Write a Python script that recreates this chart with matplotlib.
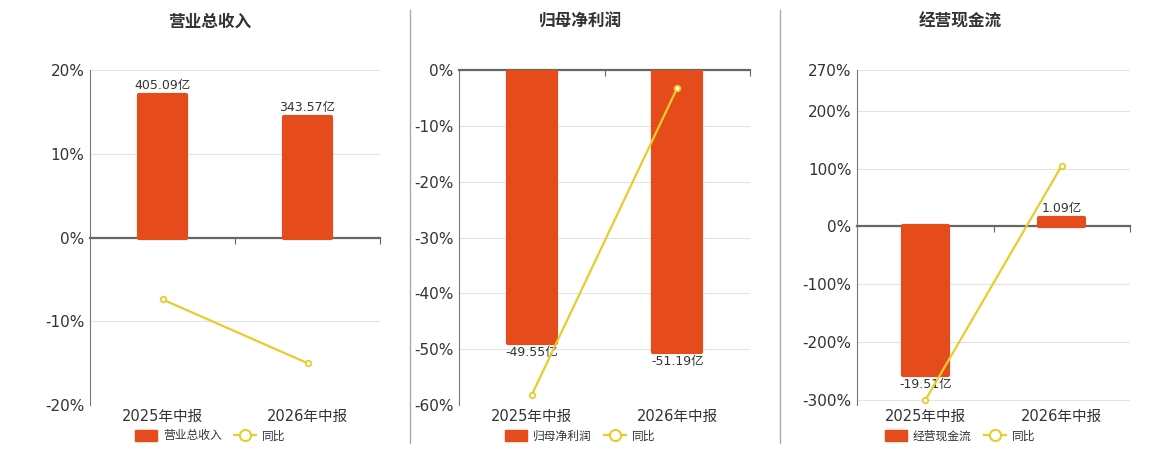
import matplotlib.pyplot as plt
from matplotlib.lines import Line2D
from matplotlib.patches import Patch

plt.rcParams['font.family'] = ['DejaVu Sans', 'Noto Sans CJK SC']

periods = ['2025年中报', '2026年中报']
titles = ['营业总收入', '归母净利润', '经营现金流']

revenue = [405.09, 343.57]
revenue_yoy = [-7.4, -15.0]
profit = [-49.55, -51.19]
profit_yoy = [-58.2, -3.2]
cashflow = [-19.51, 1.09]
cashflow_yoy = [-300.0, 105.0]

bar_color = '#E64B1B'
line_color = '#E5CE2B'

panels = [
    # bars, yoy, pct ylim, pct ticks, bar ylim
    (revenue, revenue_yoy, (-20, 20), [-20, -10, 0, 10, 20], (-476, 476)),
    (profit, profit_yoy, (-60, 0), [-60, -50, -40, -30, -20, -10, 0], (-60.8, 0)),
    (cashflow, cashflow_yoy, (-308, 270), [-300, -200, -100, 0, 100, 200, 270], (-23.4, 20.4)),
]
ax_rects = [
    [90 / 1160, 0.1, 290 / 1160, 0.7444],
    [459 / 1160, 0.1, 291 / 1160, 0.7444],
    [857 / 1160, 0.1, 273 / 1160, 0.7444],
]
title_x = [210 / 1160, 580 / 1160, 960 / 1160]

fig = plt.figure(figsize=(11.6, 4.5), dpi=100)

x = [0, 1]
for i, (bars, yoy, plim, pticks, blim) in enumerate(panels):
    ax = fig.add_axes(ax_rects[i])
    ax.set_xlim(-0.5, 1.5)
    ax.set_ylim(*plim)
    ax.set_yticks(pticks)
    ax.set_yticklabels([f'{t}%' for t in pticks], fontsize=11, color='#333333')
    ax.grid(axis='y', color='#e3e3e3', lw=0.8)
    ax.set_axisbelow(True)
    ax.tick_params(axis='y', length=0, pad=4)
    for s in ['top', 'right']:
        ax.spines[s].set_visible(False)
    ax.spines['left'].set_color('#777777')
    ax.spines['bottom'].set_position(('data', 0))
    ax.spines['bottom'].set_color('#666666')
    ax.spines['bottom'].set_linewidth(1.6)
    ax.set_xticks([0.5, 1.5])
    ax.set_xticklabels([])
    ax.tick_params(axis='x', length=4, color='#666666')

    sec = ax.secondary_xaxis('bottom')
    sec.set_xticks(x)
    sec.set_xticklabels(periods, fontsize=10.5, color='#333333')
    sec.tick_params(length=0, pad=3)
    sec.spines['bottom'].set_visible(False)

    axb = ax.twinx()
    axb.set_ylim(*blim)
    axb.set_yticks([])
    for s in axb.spines.values():
        s.set_visible(False)
    bc = axb.bar(x, bars, width=0.33, color=bar_color, edgecolor=bar_color,
                 lw=3, joinstyle='round')
    axb.bar_label(bc, labels=[f'{v:.2f}亿' for v in bars], padding=2,
                  fontsize=9, color='#333333')

    axl = ax.twinx()
    axl.set_ylim(*plim)
    axl.set_yticks([])
    for s in axl.spines.values():
        s.set_visible(False)
    axl.plot(x, yoy, color=line_color, lw=1.6, marker='o', ms=4,
             mfc='white', mec=line_color, mew=1.3)
    axl.set_xlim(-0.5, 1.5)

    fig.text(title_x[i], 1 - 22 / 450, titles[i], ha='center', va='center',
             fontsize=12, fontweight='bold', color='#333333')

    handles = [Patch(facecolor=bar_color, edgecolor=bar_color, label=titles[i]),
               Line2D([0], [0], color=line_color, lw=1.6, marker='o', ms=8,
                      mfc='white', mec=line_color, mew=1.5, label='同比')]
    fig.legend(handles=handles, loc='center', bbox_to_anchor=(title_x[i], 1 - 436 / 450),
               ncol=2, frameon=False, fontsize=8.5, handlelength=1.9, handleheight=1.0,
               columnspacing=1.0, handletextpad=0.5, labelcolor='#333333')

for xs in [410 / 1160, 780 / 1160]:
    fig.add_artist(Line2D([xs, xs], [1 - 443 / 450, 1 - 10 / 450], color='#aaaaaa', lw=1))

fig.savefig('out.png', dpi=100)
